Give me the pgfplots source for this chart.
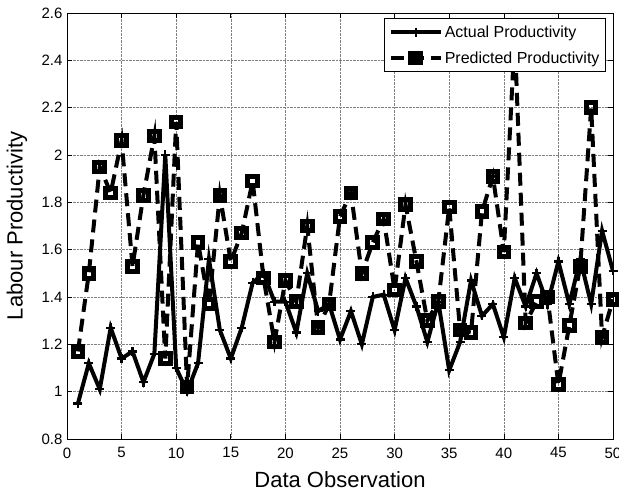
\documentclass[border=0pt]{standalone}
\usepackage{pgfplots}
\pgfplotsset{compat=1.18}
\usepackage{fontspec}
\setmainfont{Liberation Sans}
\begin{document}
\begin{tikzpicture}
\begin{axis}[
  scale only axis,
  width=546pt, height=426pt,
  xmin=0, xmax=50, ymin=0.8, ymax=2.6,
  xtick={0,5,...,50},
  ytick={0.8,1,1.2,1.4,1.6,1.8,2,2.2,2.4,2.6},
  /pgf/number format/assume math mode=true,
  /pgf/number format/fixed,
  tick label style={font=\fontsize{15}{18}\selectfont},
  xticklabel style={yshift=-5pt},
  yticklabel style={xshift=-1pt},
  tick align=inside,
  major tick length=5pt,
  tick style={black, line width=0.6pt},
  axis line style={black, line width=0.8pt},
  grid=major,
  major grid style={densely dotted, black!50, line width=0.5pt},
  xlabel={Data Observation},
  ylabel={Labour Productivity},
  label style={font=\fontsize{22}{26}\selectfont},
  xlabel style={at={(axis description cs:0.5,-0.1127)}, anchor=base},
  ylabel style={at={(axis description cs:-0.0916,0.5)}, anchor=center},
  legend cell align=left,
  legend style={at={(0.987,0.988)}, anchor=north east, draw=black, line width=0.8pt, fill=white,
    font=\fontsize{16}{19}\selectfont, inner xsep=4pt, inner ysep=5pt, row sep=9pt,
    nodes={inner sep=2pt}},
  legend image code/.code={\draw[mark repeat=2,mark phase=2,#1] plot coordinates {(0pt,0pt)(25pt,0pt)(50pt,0pt)};},
]
\addplot[black, line width=4pt, mark=+, mark size=4.5pt, mark options={solid, line width=2.2pt}] coordinates {
(1,0.95)(2,1.12)(3,1.01)(4,1.27)(5,1.14)(6,1.17)(7,1.04)(8,1.16)(9,2.00)(10,1.10)
(11,1.00)(12,1.12)(13,1.56)(14,1.26)(15,1.14)(16,1.27)(17,1.46)(18,1.50)(19,1.38)(20,1.38)
(21,1.25)(22,1.50)(23,1.34)(24,1.37)(25,1.22)(26,1.34)(27,1.20)(28,1.40)(29,1.41)(30,1.26)
(31,1.48)(32,1.36)(33,1.21)(34,1.38)(35,1.09)(36,1.21)(37,1.47)(38,1.32)(39,1.37)(40,1.23)
(41,1.48)(42,1.36)(43,1.50)(44,1.37)(45,1.55)(46,1.37)(47,1.56)(48,1.37)(49,1.68)(50,1.51)
};
\addlegendentry{Actual Productivity}
\addplot[black, line width=4pt, dash pattern=on 13pt off 7pt, mark=square, mark size=4.8pt, mark options={solid, line width=5pt, fill=white}] coordinates {
(1,1.17)(2,1.50)(3,1.95)(4,1.84)(5,2.06)(6,1.53)(7,1.83)(8,2.08)(9,1.14)(10,2.14)
(11,1.02)(12,1.63)(13,1.37)(14,1.83)(15,1.55)(16,1.67)(17,1.89)(18,1.48)(19,1.21)(20,1.47)
(21,1.38)(22,1.70)(23,1.27)(24,1.37)(25,1.74)(26,1.84)(27,1.50)(28,1.63)(29,1.73)(30,1.43)
(31,1.79)(32,1.55)(33,1.30)(34,1.38)(35,1.78)(36,1.26)(37,1.25)(38,1.76)(39,1.91)(40,1.59)
(41,2.50)(42,1.29)(43,1.38)(44,1.40)(45,1.03)(46,1.28)(47,1.53)(48,2.20)(49,1.23)(50,1.39)
};
\addlegendentry{Predicted Productivity}
\end{axis}
\pgfresetboundingbox
\path ([xshift=-67pt,yshift=-56pt]current axis.south west) rectangle ([xshift=6pt,yshift=13pt]current axis.north east);
\end{tikzpicture}
\end{document}
